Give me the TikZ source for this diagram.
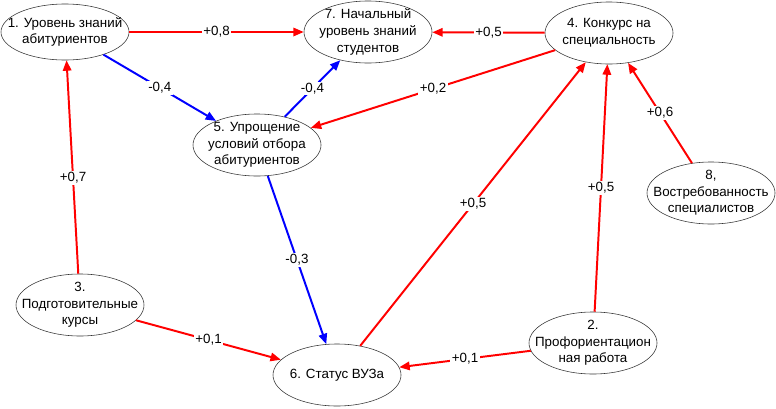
\documentclass[tikz,border=0pt]{standalone}
\usepackage{fontspec}
\setmainfont{Liberation Sans}
\usepackage{tikz}
\usetikzlibrary{positioning,arrows.meta,shapes.geometric}

\begin{document}
\begin{tikzpicture}[
  x=0.025cm, y=-0.025cm,
  factorNode/.style={ellipse, draw=black!80, thin, minimum width=3.2cm,
                     minimum height=1.55cm, inner xsep=-0.4cm, inner ysep=-0.1cm,
                     align=center, font=\fontsize{9.5}{11.8}\selectfont},
  posEdge/.style={-{Triangle[length=2.6mm,width=2.1mm]}, line width=1.4pt, red},
  negEdge/.style={-{Triangle[length=2.6mm,width=2.1mm]}, line width=1.4pt, blue},
  weight/.style={fill=white, inner sep=1pt, text=black,
                 font=\fontsize{9.5}{11.8}\selectfont}
]
  \useasboundingbox (0,0) rectangle (776,408);

  % Factors
  \node[factorNode, minimum height=1.4cm] (know) at (65,32) {1. Уровень знаний\\абитуриентов};
  \node[factorNode] (start) at (368,32) {7. Начальный\\уровень знаний\\студентов};
  \node[factorNode] (contest) at (609,33) {4. Конкурс на\\специальность};
  \node[factorNode] (simpl) at (257,145) {5. Упрощение\\условий отбора\\абитуриентов};
  \node[factorNode] (demand) at (711,193) {8,\\Востребованность\\специалистов};
  \node[factorNode] (prep) at (80,305) {3.\\Подготовительные\\курсы};
  \node[factorNode] (career) at (593,343) {2.\\Профориентацион\\ная работа};
  \node[factorNode] (status) at (337,375) {6. Статус ВУЗа};

  % Positive links
  \draw[posEdge] (know) -- node[weight] {+0,8} (start);
  \draw[posEdge] (contest) -- node[weight] {+0,5} (start);
  \draw[posEdge] (contest) -- node[weight] {+0,2} (simpl);
  \draw[posEdge] (prep) -- node[weight, pos=0.45] {+0,7} (know);
  \draw[posEdge] (prep) -- node[weight] {+0,1} (status);
  \draw[posEdge] (status) -- node[weight] {+0,5} (contest);
  \draw[posEdge] (career) -- node[weight] {+0,5} (contest);
  \draw[posEdge] (demand) -- node[weight] {+0,6} (contest);
  \draw[posEdge] (career) -- node[weight] {+0,1} (status);

  % Negative links
  \draw[negEdge] (know) -- node[weight] {-0,4} (simpl);
  \draw[negEdge] (simpl) -- node[weight] {-0,4} (start);
  \draw[negEdge] (simpl) -- node[weight] {-0,3} (status);
\end{tikzpicture}
\end{document}
